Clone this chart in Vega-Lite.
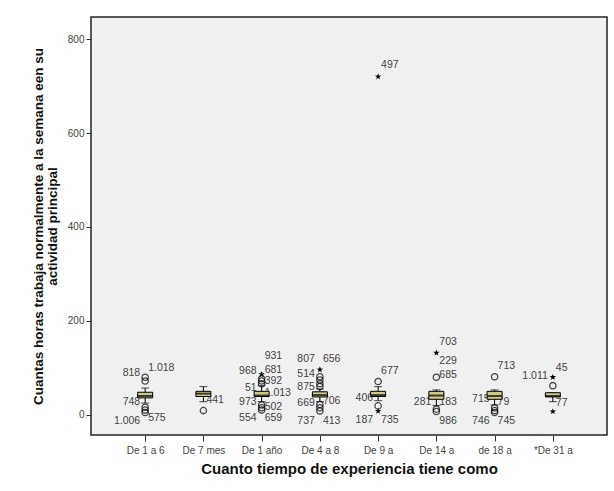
{
  "$schema": "https://vega.github.io/schema/vega-lite/v6.json",
  "width": 516,
  "height": 418,
  "padding": {"left": 31, "top": 17, "right": 5, "bottom": 5},
  "background": "white",
  "config": {
    "font": "Liberation Sans",
    "view": {"fill": "#f0f0f0", "stroke": "#222222", "strokeWidth": 1.5},
    "axis": {"grid": false, "domain": false, "tickColor": "#333333", "labelColor": "#444444", "labelFontSize": 10, "titleFontWeight": "bold", "titleColor": "#111111"}
  },
  "datasets": {
    "boxes": [
      {"cat": "De 1 a 6", "lo": 25, "q1": 36, "med": 40, "q3": 48, "hi": 57},
      {"cat": "De 7 mes", "lo": 28, "q1": 39, "med": 45, "q3": 50, "hi": 60},
      {"cat": "De 1 año", "lo": 28, "q1": 39, "med": 41, "q3": 50, "hi": 62},
      {"cat": "De 4 a 8", "lo": 28, "q1": 38, "med": 42, "q3": 49, "hi": 55},
      {"cat": "De 9 a", "lo": 30, "q1": 39, "med": 42, "q3": 50, "hi": 60},
      {"cat": "De 14 a", "lo": 20, "q1": 33, "med": 41, "q3": 50, "hi": 53},
      {"cat": "de 18 a", "lo": 21, "q1": 33, "med": 40, "q3": 50, "hi": 53},
      {"cat": "*De 31 a", "lo": 28, "q1": 38, "med": 40, "q3": 47, "hi": 47}
    ],
    "points": [
      {"cat": "De 1 a 6", "value": 72, "kind": "circle"},
      {"cat": "De 1 a 6", "value": 80, "kind": "circle"},
      {"cat": "De 1 a 6", "value": 16, "kind": "circle"},
      {"cat": "De 1 a 6", "value": 10, "kind": "circle"},
      {"cat": "De 1 a 6", "value": 5, "kind": "circle"},
      {"cat": "De 7 mes", "value": 9, "kind": "circle"},
      {"cat": "De 1 año", "value": 66, "kind": "circle"},
      {"cat": "De 1 año", "value": 72, "kind": "circle"},
      {"cat": "De 1 año", "value": 77, "kind": "circle"},
      {"cat": "De 1 año", "value": 86, "kind": "star"},
      {"cat": "De 1 año", "value": 21, "kind": "circle"},
      {"cat": "De 1 año", "value": 15, "kind": "circle"},
      {"cat": "De 1 año", "value": 10, "kind": "circle"},
      {"cat": "De 4 a 8", "value": 60, "kind": "circle"},
      {"cat": "De 4 a 8", "value": 66, "kind": "circle"},
      {"cat": "De 4 a 8", "value": 74, "kind": "circle"},
      {"cat": "De 4 a 8", "value": 81, "kind": "circle"},
      {"cat": "De 4 a 8", "value": 96, "kind": "star"},
      {"cat": "De 4 a 8", "value": 22, "kind": "circle"},
      {"cat": "De 4 a 8", "value": 15, "kind": "circle"},
      {"cat": "De 4 a 8", "value": 8, "kind": "circle"},
      {"cat": "De 9 a", "value": 71, "kind": "circle"},
      {"cat": "De 9 a", "value": 19, "kind": "circle"},
      {"cat": "De 9 a", "value": 8, "kind": "star"},
      {"cat": "De 9 a", "value": 720, "kind": "star"},
      {"cat": "De 14 a", "value": 80, "kind": "circle"},
      {"cat": "De 14 a", "value": 132, "kind": "star"},
      {"cat": "De 14 a", "value": 12, "kind": "circle"},
      {"cat": "De 14 a", "value": 7, "kind": "circle"},
      {"cat": "de 18 a", "value": 81, "kind": "circle"},
      {"cat": "de 18 a", "value": 15, "kind": "circle"},
      {"cat": "de 18 a", "value": 9, "kind": "circle"},
      {"cat": "de 18 a", "value": 5, "kind": "circle"},
      {"cat": "*De 31 a", "value": 62, "kind": "circle"},
      {"cat": "*De 31 a", "value": 80, "kind": "star"},
      {"cat": "*De 31 a", "value": 7, "kind": "star"}
    ],
    "labels": [
      {"cat": "De 1 a 6", "value": 88, "label": "818", "side": "L"},
      {"cat": "De 1 a 6", "value": 100, "label": "1.018", "side": "R"},
      {"cat": "De 1 a 6", "value": 28, "label": "748", "side": "L"},
      {"cat": "De 1 a 6", "value": -13, "label": "1.006", "side": "L"},
      {"cat": "De 1 a 6", "value": -6, "label": "575", "side": "R"},
      {"cat": "De 7 mes", "value": 32, "label": "441", "side": "R"},
      {"cat": "De 1 año", "value": 126, "label": "931", "side": "R"},
      {"cat": "De 1 año", "value": 94, "label": "968", "side": "L"},
      {"cat": "De 1 año", "value": 71, "label": "392", "side": "R"},
      {"cat": "De 1 año", "value": 95, "label": "681", "side": "R"},
      {"cat": "De 1 año", "value": 58, "label": "51", "side": "L"},
      {"cat": "De 1 año", "value": 47, "label": "1.013", "side": "R"},
      {"cat": "De 1 año", "value": 28, "label": "973", "side": "L"},
      {"cat": "De 1 año", "value": 17, "label": "502", "side": "R"},
      {"cat": "De 1 año", "value": -6, "label": "554", "side": "L"},
      {"cat": "De 1 año", "value": -6, "label": "659", "side": "R"},
      {"cat": "De 4 a 8", "value": 119, "label": "807", "side": "L"},
      {"cat": "De 4 a 8", "value": 119, "label": "656", "side": "R"},
      {"cat": "De 4 a 8", "value": 87, "label": "514", "side": "L"},
      {"cat": "De 4 a 8", "value": 60, "label": "875", "side": "L"},
      {"cat": "De 4 a 8", "value": 25, "label": "669", "side": "L"},
      {"cat": "De 4 a 8", "value": 30, "label": "706", "side": "R"},
      {"cat": "De 4 a 8", "value": -13, "label": "737", "side": "L"},
      {"cat": "De 4 a 8", "value": -13, "label": "413", "side": "R"},
      {"cat": "De 9 a", "value": 94, "label": "677", "side": "R"},
      {"cat": "De 9 a", "value": 36, "label": "406", "side": "L"},
      {"cat": "De 9 a", "value": -12, "label": "187", "side": "L"},
      {"cat": "De 9 a", "value": -12, "label": "735", "side": "R"},
      {"cat": "De 9 a", "value": 745, "label": "497", "side": "R"},
      {"cat": "De 14 a", "value": 154, "label": "703", "side": "R"},
      {"cat": "De 14 a", "value": 115, "label": "229", "side": "R"},
      {"cat": "De 14 a", "value": 85, "label": "685", "side": "R"},
      {"cat": "De 14 a", "value": 28, "label": "281", "side": "L"},
      {"cat": "De 14 a", "value": 28, "label": "183", "side": "R"},
      {"cat": "De 14 a", "value": -14, "label": "986", "side": "R"},
      {"cat": "de 18 a", "value": 104, "label": "713", "side": "R"},
      {"cat": "de 18 a", "value": 34, "label": "715", "side": "L"},
      {"cat": "de 18 a", "value": 28, "label": "79", "side": "R"},
      {"cat": "de 18 a", "value": -14, "label": "746", "side": "L"},
      {"cat": "de 18 a", "value": -14, "label": "745", "side": "R"},
      {"cat": "*De 31 a", "value": 83, "label": "1.011", "side": "L"},
      {"cat": "*De 31 a", "value": 100, "label": "45", "side": "R"},
      {"cat": "*De 31 a", "value": 25, "label": "77", "side": "R"}
    ]
  },
  "encoding": {
    "x": {
      "field": "cat",
      "type": "nominal",
      "sort": ["De 1 a 6", "De 7 mes", "De 1 año", "De 4 a 8", "De 9 a", "De 14 a", "de 18 a", "*De 31 a"],
      "scale": {"type": "point", "padding": 0.93},
      "axis": {"title": "Cuanto tiempo de experiencia tiene como", "labelAngle": 0, "tickSize": 6, "labelPadding": 4, "titleFontSize": 15, "titlePadding": 6}
    }
  },
  "layer": [
    {
      "data": {"name": "labels"},
      "transform": [{"filter": "datum.side == 'L'"}],
      "mark": {"type": "text", "align": "right", "baseline": "middle", "dx": -5, "fontSize": 10.5, "color": "#444444"},
      "encoding": {
        "y": {"field": "value", "type": "quantitative", "scale": {"domain": [-43, 847], "nice": false, "zero": false},
              "axis": {"title": ["Cuantas horas trabaja normalmente a la semana een su", "actividad principal"], "values": [0, 200, 400, 600, 800], "tickSize": 5, "labelPadding": 2, "titleFontSize": 13.5, "titlePadding": 8, "titleLineHeight": 14}},
        "text": {"field": "label"}
      }
    },
    {
      "data": {"name": "labels"},
      "transform": [{"filter": "datum.side == 'R'"}],
      "mark": {"type": "text", "align": "left", "baseline": "middle", "dx": 3, "fontSize": 10.5, "color": "#444444"},
      "encoding": {
        "y": {"field": "value", "type": "quantitative"},
        "text": {"field": "label"}
      }
    },
    {
      "data": {"name": "boxes"},
      "mark": {"type": "rule", "color": "black", "strokeWidth": 1},
      "encoding": {"y": {"field": "lo", "type": "quantitative"}, "y2": {"field": "hi"}}
    },
    {
      "data": {"name": "boxes"},
      "mark": {"type": "tick", "size": 8, "thickness": 1, "color": "black"},
      "encoding": {"y": {"field": "lo", "type": "quantitative"}}
    },
    {
      "data": {"name": "boxes"},
      "mark": {"type": "tick", "size": 8, "thickness": 1, "color": "black"},
      "encoding": {"y": {"field": "hi", "type": "quantitative"}}
    },
    {
      "data": {"name": "boxes"},
      "mark": {"type": "bar", "size": 15, "fill": "#cfc88b", "stroke": "black", "strokeWidth": 1},
      "encoding": {"y": {"field": "q1", "type": "quantitative"}, "y2": {"field": "q3"}}
    },
    {
      "data": {"name": "boxes"},
      "mark": {"type": "tick", "size": 15, "thickness": 2, "color": "black"},
      "encoding": {"y": {"field": "med", "type": "quantitative"}}
    },
    {
      "data": {"name": "points"},
      "transform": [{"filter": "datum.kind == 'circle'"}],
      "mark": {"type": "point", "shape": "circle", "filled": false, "stroke": "black", "strokeWidth": 1.3, "size": 40},
      "encoding": {"y": {"field": "value", "type": "quantitative"}}
    },
    {
      "data": {"name": "points"},
      "transform": [{"filter": "datum.kind == 'star'"}],
      "mark": {"type": "point", "shape": "M0,-1L0.24,-0.33L0.95,-0.31L0.38,0.12L0.59,0.81L0,0.4L-0.59,0.81L-0.38,0.12L-0.95,-0.31L-0.24,-0.33Z", "filled": true, "color": "black", "opacity": 1, "size": 45},
      "encoding": {"y": {"field": "value", "type": "quantitative"}}
    }
  ]
}
